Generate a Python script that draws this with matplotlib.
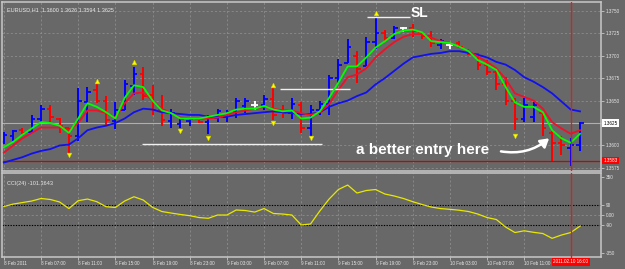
import matplotlib
matplotlib.use("Agg")
import matplotlib.pyplot as plt
import numpy as np
from matplotlib.patches import FancyArrowPatch

plt.rcParams['font.family'] = ['Liberation Sans', 'DejaVu Sans']

# EURUSD H1 bars, first bar = 8 Feb 2011 03:00
opens = [1.3604, 1.3611, 1.3617, 1.3615, 1.3630, 1.3641, 1.3630, 1.3620, 1.3610, 1.3648,
         1.3662, 1.3650, 1.3627, 1.3640, 1.3666, 1.3680, 1.3656, 1.3640, 1.3627, 1.3624,
         1.3627, 1.3630, 1.3626, 1.3631, 1.3632, 1.3637, 1.3644, 1.3645, 1.3645, 1.3652,
         1.3640, 1.3636, 1.3645, 1.3620, 1.3640, 1.3646, 1.3675, 1.3692, 1.3700, 1.3688,
         1.3715, 1.3725, 1.3720, 1.3731, 1.3731, 1.3726, 1.3722, 1.3712, 1.3712, 1.3714,
         1.3706, 1.3702, 1.3690, 1.3682, 1.3668, 1.3650, 1.3630, 1.3632, 1.3636, 1.3614,
         1.3603, 1.3597, 1.3600]
highs = [1.3615, 1.3617, 1.3619, 1.3634, 1.3645, 1.3645, 1.3631, 1.3620, 1.3664, 1.3665,
         1.3668, 1.3655, 1.3648, 1.3673, 1.3687, 1.3687, 1.3667, 1.3656, 1.3641, 1.3631,
         1.3631, 1.3631, 1.3634, 1.3641, 1.3639, 1.3653, 1.3653, 1.3650, 1.3656, 1.3665,
         1.3645, 1.3653, 1.3648, 1.3645, 1.3650, 1.3679, 1.3696, 1.3718, 1.3705, 1.3721,
         1.3743, 1.3729, 1.3733, 1.3732, 1.3735, 1.3726, 1.3727, 1.3718, 1.3715, 1.3716,
         1.3707, 1.3703, 1.3695, 1.3684, 1.3676, 1.3653, 1.3653, 1.3648, 1.3636, 1.3617,
         1.3611, 1.3608, 1.3626]
lows = [1.3602, 1.3605, 1.3613, 1.3614, 1.3625, 1.3626, 1.3614, 1.3591, 1.3605, 1.3626,
        1.3647, 1.3622, 1.3618, 1.3640, 1.3656, 1.3651, 1.3634, 1.3622, 1.3620, 1.3619,
        1.3622, 1.3625, 1.3613, 1.3626, 1.3626, 1.3631, 1.3636, 1.3639, 1.3639, 1.3628,
        1.3631, 1.3630, 1.3614, 1.3609, 1.3634, 1.3634, 1.3670, 1.3692, 1.3670, 1.3688,
        1.3707, 1.3716, 1.3718, 1.3726, 1.3721, 1.3718, 1.3710, 1.3707, 1.3707, 1.3709,
        1.3701, 1.3684, 1.3679, 1.3662, 1.3645, 1.3617, 1.3626, 1.3626, 1.3611, 1.3583,
        1.3589, 1.3577, 1.3594]
closes = [1.3612, 1.3616, 1.3614, 1.3630, 1.3641, 1.3632, 1.3622, 1.3610, 1.3650, 1.3660,
          1.3650, 1.3628, 1.3640, 1.3668, 1.3680, 1.3655, 1.3640, 1.3628, 1.3636, 1.3629,
          1.3630, 1.3626, 1.3632, 1.3638, 1.3637, 1.3649, 1.3650, 1.3645, 1.3652, 1.3634,
          1.3636, 1.3646, 1.3620, 1.3640, 1.3646, 1.3675, 1.3690, 1.3710, 1.3685, 1.3715,
          1.3725, 1.3720, 1.3731, 1.3731, 1.3727, 1.3722, 1.3714, 1.3716, 1.3712, 1.3710,
          1.3702, 1.3690, 1.3682, 1.3668, 1.3650, 1.3630, 1.3645, 1.3645, 1.3620, 1.3603,
          1.3600, 1.3601, 1.3625]

# moving averages
ma_fast = [1.3598, 1.3604, 1.3612, 1.3619, 1.3626, 1.3625, 1.3622, 1.3614, 1.3630, 1.3647,
           1.3643, 1.3637, 1.3630, 1.3653, 1.3667, 1.3665, 1.3650, 1.3639, 1.3636, 1.3630,
           1.3630, 1.3630, 1.3632, 1.3634, 1.3636, 1.3640, 1.3641, 1.3641, 1.3644, 1.3640,
           1.3638, 1.3639, 1.3630, 1.3631, 1.3638, 1.3653, 1.3670, 1.3688, 1.3688, 1.3698,
           1.3709, 1.3716, 1.3724, 1.3728, 1.3729, 1.3726, 1.3716, 1.3715, 1.3714, 1.3710,
           1.3705, 1.3695, 1.3690, 1.3684, 1.3665, 1.3648, 1.3643, 1.3643, 1.3637, 1.3617,
           1.3608, 1.3603, 1.3613]
ma_mid = [1.3592, 1.3600, 1.3608, 1.3614, 1.3620, 1.3620, 1.3620, 1.3617, 1.3625, 1.3639,
          1.3639, 1.3636, 1.3631, 1.3647, 1.3658, 1.3659, 1.3650, 1.3641, 1.3636, 1.3631,
          1.3630, 1.3630, 1.3630, 1.3631, 1.3634, 1.3637, 1.3639, 1.3641, 1.3643, 1.3641,
          1.3639, 1.3639, 1.3636, 1.3634, 1.3637, 1.3646, 1.3662, 1.3676, 1.3679, 1.3686,
          1.3698, 1.3707, 1.3715, 1.3721, 1.3724, 1.3724, 1.3720, 1.3716, 1.3714, 1.3710,
          1.3705, 1.3699, 1.3693, 1.3686, 1.3674, 1.3658, 1.3654, 1.3650, 1.3641, 1.3626,
          1.3619, 1.3613, 1.3617]
ma_slow = [1.3581, 1.3584, 1.3587, 1.3591, 1.3594, 1.3596, 1.3600, 1.3601, 1.3608, 1.3617,
           1.3620, 1.3622, 1.3625, 1.3630, 1.3637, 1.3641, 1.3640, 1.3637, 1.3636, 1.3635,
           1.3634, 1.3634, 1.3632, 1.3632, 1.3632, 1.3634, 1.3635, 1.3636, 1.3637, 1.3638,
           1.3637, 1.3636, 1.3635, 1.3635, 1.3637, 1.3643, 1.3647, 1.3650, 1.3655, 1.3659,
           1.3668, 1.3675, 1.3683, 1.3691, 1.3698, 1.3700, 1.3702, 1.3703, 1.3705, 1.3705,
           1.3703, 1.3701, 1.3698, 1.3693, 1.3690, 1.3684, 1.3676, 1.3671, 1.3665, 1.3658,
           1.3649, 1.3640, 1.3638]

cci = [78, 100, 114, 128, 151, 142, 119, 59, 131, 146,
       122, 76, 69, 128, 167, 137, 70, 32, 18, 5,
       -6, -23, -30, 0, 0, 46, 41, 27, 59, 14,
       9, 0, -91, -82, 37, 146, 233, 274, 201, 224,
       233, 192, 174, 151, 122, 96, 73, 59, 52, 44,
       32, 9, -23, -41, -110, -160, -144, -158, -169, -213,
       -183, -160, -101.4]

up_fractal_idx = [10, 14, 29, 40]
up_fractal_px = [1.3672, 1.3693, 1.3667, 1.3748]
dn_fractal_idx = [7, 19, 22, 29, 33, 55]
dn_fractal_px = [1.3589, 1.3616, 1.3608, 1.3625, 1.3608, 1.3611]

time_idx = [0, 4, 8, 12, 16, 20, 24, 28, 32, 36, 40, 44, 48, 52, 56]
time_labels = ["8 Feb 2011", "8 Feb 07:00", "8 Feb 11:00", "8 Feb 15:00", "8 Feb 19:00",
               "8 Feb 23:00", "9 Feb 03:00", "9 Feb 07:00", "9 Feb 11:00", "9 Feb 15:00",
               "9 Feb 19:00", "9 Feb 23:00", "10 Feb 03:00", "10 Feb 07:00", "10 Feb 11:00"]
price_ticks = [1.3575, 1.3600, 1.3625, 1.3650, 1.3675, 1.3700, 1.3725, 1.3750]
cci_ticks = [350, 90, 0, -90, -350]
cci_tick_labels = ["350", "90", "0.00", "-90", "-350"]

bid = 1.3625
red_level = 1.3583
cursor_idx = 61

BG = '#686868'
FRAME = '#c8c8c8'
GRID = '#8c8c8c'
TXT = '#e6e6e6'

W, H = 625, 269
fig = plt.figure(figsize=(W / 100, H / 100), dpi=100, facecolor=BG)
ax = fig.add_axes([2 / W, (H - 171) / H, 599 / W, 169 / H], facecolor=BG)
ax2 = fig.add_axes([2 / W, (H - 256.5) / H, 599 / W, 83.5 / H], facecolor=BG, sharex=ax)

x = np.arange(len(opens))
xlim = (-0.2, 64.26)

for a in (ax, ax2):
    for s in a.spines.values():
        s.set_color(FRAME)
        s.set_linewidth(1.1)
    a.set_xlim(*xlim)
    a.yaxis.tick_right()
    a.tick_params(axis='y', length=2, width=0.6, color=FRAME, labelcolor=TXT,
                  labelsize=3.3, pad=1.5)
    for i in time_idx:
        a.axvline(i, color=GRID, lw=0.6, ls=(0, (2.5, 2.5)), zorder=0)

# ---- main price panel ----
ax.set_ylim(1.35716, 1.37597)
ax.set_yticks(price_ticks)
# the bid tick is covered by its own label box
ax.set_yticklabels(["" if p == bid else f"{p:.4f}" for p in price_ticks])
for p in price_ticks:
    ax.axhline(p, color=GRID, lw=0.6, ls=(0, (2.5, 2.5)), zorder=0)
ax.tick_params(axis='x', bottom=False, labelbottom=False)

ax.axhline(bid, color='#a9b0b8', lw=0.8, zorder=1)
ax.axhline(red_level, color='#d00000', lw=0.9, zorder=1)

colors = ['#0000ff' if c > o else '#ff0000' if c < o else '#ffffff'
          for o, c in zip(opens, closes)]
ax.vlines(x, lows, highs, colors=colors, lw=1.4, zorder=2)
ax.hlines(opens, x - 0.38, x, colors=colors, lw=1.3, zorder=2)
ax.hlines(closes, x, x + 0.38, colors=colors, lw=1.3, zorder=2)

ax.plot(x, ma_slow, color='#1010f0', lw=1.3, zorder=3)
ax.plot(x, ma_mid, color='#f01028', lw=1.3, zorder=3)
ax.plot(x, ma_fast, color='#00ff00', lw=1.3, zorder=4)

ax.plot(up_fractal_idx, up_fractal_px, ls='none', marker='^', ms=3.4, color='#ffff00',
        mec='#c8c800', mew=0.4, zorder=5)
ax.plot(dn_fractal_idx, dn_fractal_px, ls='none', marker='v', ms=3.4, color='#ffff00',
        mec='#c8c800', mew=0.4, zorder=5)

# hand drawn lines and notes
ax.hlines([1.3602, 1.3663, 1.3743], [14.9, 29.7, 39.1], [34.2, 37.2, 43.7],
          colors='#f0f0f0', lw=1.0, zorder=3)
ax.text(43.8, 1.3743, "SL", color='white', fontsize=10, fontweight='bold',
        ha='left', va='baseline', zorder=6)
ax.text(37.9, 1.3591, "a better entry here", color='white', fontsize=11,
        fontweight='bold', ha='left', va='baseline', zorder=6)
arrow = FancyArrowPatch((53.2, 1.3594), (58.9, 1.3610), connectionstyle="arc3,rad=0.25",
                        arrowstyle="-|>,head_length=0.5,head_width=0.3", mutation_scale=10,
                        color='white', lw=1.8, zorder=6)
ax.add_patch(arrow)

ax.text(5 / 599, 0.955, "EURUSD,H1  1.3600 1.3626 1.3594 1.3625", transform=ax.transAxes,
        color=TXT, fontsize=4, ha='left', va='center')
ax.text(1.004, bid, f"{bid:.4f}", transform=ax.get_yaxis_transform(), fontsize=3.3,
        color='black', ha='left', va='center', clip_on=False, zorder=7,
        bbox=dict(boxstyle='square,pad=0.25', fc='white', ec='white', lw=0))
ax.text(1.004, red_level, f"{red_level:.4f}", transform=ax.get_yaxis_transform(),
        fontsize=3.3, color='white', ha='left', va='center', clip_on=False, zorder=7,
        bbox=dict(boxstyle='square,pad=0.25', fc='#ff0000', ec='#ff0000', lw=0))

# ---- CCI panel ----
ax2.set_ylim(-379, 384)
ax2.set_yticks(cci_ticks)
ax2.set_yticklabels(cci_tick_labels)
ax2.axhline(0, color=GRID, lw=0.6, ls=(0, (2.5, 2.5)), zorder=0)
for lv in (90, -90):
    ax2.axhline(lv, color='black', lw=0.8, ls=(0, (1.2, 1.2)), zorder=1)
ax2.plot(x, cci, color='#e8e800', lw=0.9, zorder=3)
ax2.text(5 / 599, 0.87, "CCI(24) -101.3643", transform=ax2.transAxes, color=TXT,
         fontsize=4, ha='left', va='center')

ax2.set_xticks(time_idx)
ax2.set_xticklabels(time_labels)
ax2.tick_params(axis='x', length=2, width=0.6, color=FRAME, labelcolor=TXT,
                labelsize=3.3, pad=1.5)
for lab in ax2.get_xticklabels():
    lab.set_ha('left')

for a in (ax, ax2):
    a.axvline(cursor_idx, color='#ff1010', lw=0.9, zorder=6)
ax2.text(cursor_idx, -0.065, "2011.02.10 16:00", transform=ax2.get_xaxis_transform(),
         fontsize=3.3, color='white', ha='center', va='center', clip_on=False, zorder=8,
         bbox=dict(boxstyle='square,pad=0.3', fc='#ff0000', ec='#ff0000', lw=0))
ax2.plot([cursor_idx, cursor_idx], [0, -0.03], transform=ax2.get_xaxis_transform(),
         color='#ff1010', lw=0.9, clip_on=False, zorder=7)

fig.savefig("out.png", dpi=100, facecolor=BG)
